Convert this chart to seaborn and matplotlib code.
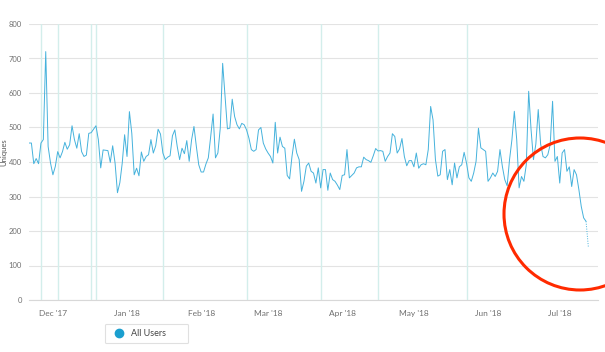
import numpy as np
import pandas as pd
import matplotlib
matplotlib.use("Agg")
import matplotlib.pyplot as plt
import matplotlib.dates as mdates
from matplotlib.lines import Line2D
from matplotlib.patches import Ellipse
import seaborn as sns

# Daily unique users
start_date = "2017-11-21"
uniques = [
    455, 455, 395, 410, 395, 455, 465, 720, 445, 397, 363, 387, 430, 412, 430, 457,
    437, 450, 505, 465, 440, 482, 430, 416, 420, 483, 485, 495, 505, 465, 383, 435,
    434, 433, 399, 447, 397, 311, 340, 397, 479, 416, 546, 483, 363, 382, 360, 429,
    402, 416, 421, 465, 426, 447, 495, 481, 426,
    407, 414, 418, 476, 493, 445, 407, 440, 424, 462, 402, 464, 503, 445, 392, 371,
    371, 394, 412, 474, 539, 412, 426, 498, 686, 589, 496, 498, 582, 532, 508, 496,
    512, 508, 493, 469, 436, 431, 436, 493, 500, 455, 438, 426, 416, 397, 515, 426,
    472, 445, 440, 361, 351, 416, 466, 426, 407, 315, 344, 388, 397,
    373, 368, 339, 383, 325, 378, 378, 318, 368, 349, 344, 333, 320, 361, 363, 436,
    354, 361, 368, 383, 386, 386, 414, 407, 404, 399, 418, 439, 432, 433, 431, 402,
    416, 426, 482, 474, 426, 438, 468, 416, 389, 404, 404, 386, 426, 382, 392, 395,
    392, 436, 561, 522, 407, 359, 363, 431, 436, 349,
    378, 334, 397, 354, 386, 392, 428, 397, 354, 344, 368, 402, 498, 441, 436, 431,
    344, 354, 368, 358, 373, 436, 387, 349, 331, 407, 465, 547, 465, 325, 358, 344,
    392, 605, 494, 407, 452, 552, 452, 416, 412, 421, 450, 576, 402, 416, 339, 426,
    436, 373, 386, 329, 378, 363, 320, 271, 238, 228, 151,
]
# annotation markers (vertical lines)
event_dates = ["2017-11-26", "2017-12-03", "2017-12-17", "2017-12-19", "2018-01-16",
               "2018-02-20", "2018-03-23", "2018-04-16", "2018-05-23"]
series_name = "All Users"

df = pd.DataFrame({
    "date": pd.date_range(start_date, periods=len(uniques), freq="D"),
    "uniques": uniques,
})

line_color = "#45b2dc"
sns.set_style("white")
plt.rcParams["font.family"] = ["Lato", "DejaVu Sans"]

fig = plt.figure(figsize=(6.05, 3.52), dpi=100)
ax = fig.add_axes([29 / 605, 52 / 352, 569 / 605, 276 / 352])

for d in event_dates:
    ax.axvline(pd.Timestamp(d), color="#d3eeeb", lw=1, zorder=1)

# solid part, then dotted last (incomplete) day
sns.lineplot(data=df.iloc[:-1], x="date", y="uniques", ax=ax, color=line_color,
             lw=0.7, zorder=3)
sns.lineplot(data=df.iloc[-2:], x="date", y="uniques", ax=ax, color=line_color,
             lw=0.7, linestyle=(0, (1, 1.5)), zorder=3)

ax.set_ylim(0, 800)
ax.set_yticks(np.arange(0, 801, 100))
ax.set_xlim(pd.Timestamp("2017-11-21"), pd.Timestamp("2018-07-17"))
ax.xaxis.set_major_locator(mdates.MonthLocator())
ax.xaxis.set_major_formatter(mdates.DateFormatter("%b '%y"))
ax.grid(axis="y", color="#e3e3e3", lw=0.8)
ax.grid(axis="x", visible=False)
ax.tick_params(axis="both", length=0, labelcolor="#707070")
ax.tick_params(axis="x", pad=7, labelsize=6)
ax.tick_params(axis="y", pad=5, labelsize=5.5)
for s in ["top", "right", "left"]:
    ax.spines[s].set_visible(False)
ax.spines["bottom"].set_color("#d8d8d8")
ax.spines["bottom"].set_linewidth(0.8)
ax.set_xlabel("")
ax.set_ylabel("Uniques", fontsize=5.5, color="#555555")
ax.yaxis.set_label_coords(-22 / 569, 0.536)

handle = Line2D([], [], marker="o", linestyle="none", markersize=6,
                markerfacecolor="#1b9fcf", markeredgecolor="#1b9fcf")
leg = fig.legend([handle], [series_name], loc="lower left", mode="expand",
                 bbox_to_anchor=(100 / 605, 4 / 352, 93 / 605, 22 / 352),
                 bbox_transform=fig.transFigure, fontsize=6.5, frameon=True,
                 handletextpad=0.3, borderpad=0.6, fancybox=True)
leg.get_frame().set_edgecolor("#d9d9d9")
leg.get_frame().set_linewidth(0.8)
for t in leg.get_texts():
    t.set_color("#444444")

# red highlight circle around the recent drop
circle = Ellipse((580 / 605, 1 - 214 / 352), 152 / 605, 152 / 352,
                 transform=fig.transFigure, fill=False, edgecolor="#ff2a00",
                 lw=2.2, zorder=10)
fig.patches.append(circle)

fig.savefig("out.png", dpi=100)
